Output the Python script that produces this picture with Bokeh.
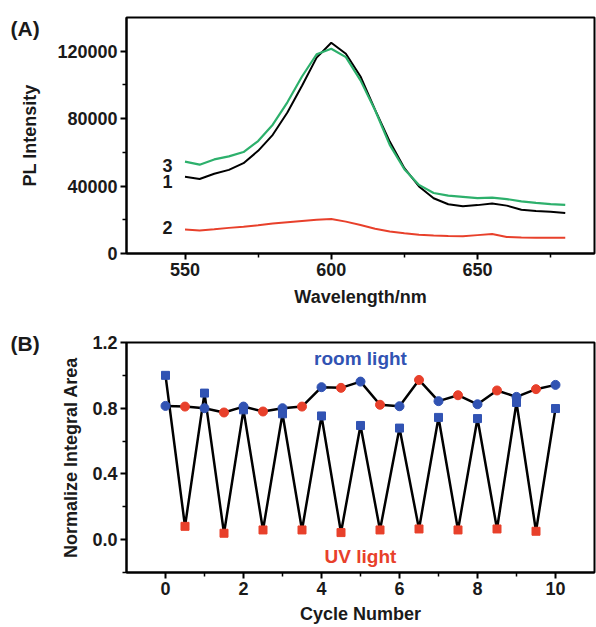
from bokeh.plotting import figure
from bokeh.layouts import column
from bokeh.models import Range1d, FixedTicker, Label
from bokeh.embed import file_html
from bokeh.resources import INLINE

# ---------------- Panel A data ----------------
wavelength = [550, 555, 560, 565, 570, 575, 580, 585, 590, 595, 600, 605, 610, 615,
              620, 625, 630, 635, 640, 645, 650, 655, 660, 665, 670, 675, 680]
curve1 = [45500, 44200, 47300, 49600, 53600, 60900, 70400, 83600, 99500, 116200, 125000,
          118500, 105000, 85200, 66400, 50600, 39800, 32800, 29200, 28000, 28700, 29600,
          28400, 26000, 25200, 24800, 24000]
curve2 = [14200, 13700, 14400, 15200, 15900, 16700, 17800, 18600, 19300, 20000, 20500,
          18900, 16900, 14700, 13100, 12000, 11100, 10700, 10400, 10200, 10900, 11600,
          9800, 9500, 9400, 9300, 9300]
curve3 = [54500, 52700, 55800, 57600, 60200, 66700, 76400, 89700, 105000, 118200, 121500,
          116500, 102700, 85000, 64400, 50000, 40700, 35900, 34300, 33600, 32900, 33100,
          32300, 30900, 30000, 29300, 28900]
curve_names = ["1", "2", "3"]
a_xticks = [550, 600, 650]
a_xminor = [575, 625, 675]
a_yticks = [0, 40000, 80000, 120000]
a_ytick_labels = ["0", "40000", "80000", "120000"]
a_yminor = [20000, 60000, 100000]

# ---------------- Panel B data ----------------
cycle = [0, 0.5, 1, 1.5, 2, 2.5, 3, 3.5, 4, 4.5, 5, 5.5, 6, 6.5, 7, 7.5, 8, 8.5, 9, 9.5, 10]
switching = [1.00, 0.081, 0.892, 0.039, 0.79, 0.059, 0.766, 0.059, 0.753, 0.043, 0.695,
             0.059, 0.679, 0.065, 0.744, 0.059, 0.737, 0.065, 0.835, 0.051, 0.798]
stable = [0.814, 0.81, 0.80, 0.774, 0.81, 0.78, 0.80, 0.81, 0.928, 0.924, 0.962, 0.821,
          0.812, 0.972, 0.843, 0.879, 0.824, 0.908, 0.869, 0.916, 0.942]
b_xticks = [0, 2, 4, 6, 8, 10]
b_xminor = [1, 3, 5, 7, 9]
b_yticks = [0.0, 0.4, 0.8, 1.2]
b_ytick_labels = ["0.0", "0.4", "0.8", "1.2"]
b_yminor = [-0.2, 0.2, 0.6, 1.0]

FONT = "Liberation Sans"
BLUE = "#3153b3"
RED = "#e8402b"
GREEN = "#2db06c"
INK = "#1a1a1a"


def style(p, ylab_standoff, xlab_standoff):
    p.outline_line_color = "black"
    p.outline_line_width = 2
    p.xgrid.visible = False
    p.ygrid.visible = False
    p.background_fill_color = "white"
    p.border_fill_color = "white"
    for ax in (p.xaxis[0], p.yaxis[0]):
        ax.axis_line_width = 2
        ax.axis_line_color = "black"
        ax.major_tick_line_width = 2
        ax.minor_tick_line_width = 1.5
        ax.major_tick_out = 6
        ax.major_tick_in = 0
        ax.minor_tick_out = 4
        ax.minor_tick_in = 0
        ax.major_label_text_font = FONT
        ax.major_label_text_font_style = "bold"
        ax.major_label_text_font_size = "18px"
        ax.major_label_text_color = INK
        ax.major_label_standoff = 3
        ax.axis_label_text_font = FONT
        ax.axis_label_text_font_style = "bold"
        ax.axis_label_text_font_size = "18px"
        ax.axis_label_text_color = INK
    p.xaxis[0].axis_label_standoff = xlab_standoff
    p.yaxis[0].axis_label_standoff = ylab_standoff


def panel_tag(text, y):
    # placed in canvas pixels; lives in a side panel that has spare room
    return Label(x=10, y=y, x_units="canvas", y_units="canvas", text=text,
                 text_font=FONT, text_font_style="bold", text_font_size="21px",
                 text_align="left", text_baseline="middle", text_color=INK)


# ---------------- Panel A ----------------
pa = figure(width=596, height=332, output_backend="svg", toolbar_location=None,
            x_range=Range1d(530, 690), y_range=Range1d(0, 140000),
            min_border_left=126, min_border_right=2, min_border_top=17, min_border_bottom=78,
            x_axis_label="Wavelength/nm", y_axis_label="PL Intensity")
style(pa, 14, 8)
pa.xaxis[0].ticker = FixedTicker(ticks=a_xticks, minor_ticks=a_xminor)
pa.yaxis[0].ticker = FixedTicker(ticks=a_yticks, minor_ticks=a_yminor)
pa.yaxis[0].major_label_overrides = dict(zip(a_yticks, a_ytick_labels))

pa.line(wavelength, curve2, line_color=RED, line_width=2)
pa.line(wavelength, curve1, line_color="black", line_width=2)
pa.line(wavelength, curve3, line_color=GREEN, line_width=2.2)

for name, ys in zip(curve_names, (curve1, curve2, curve3)):
    pa.add_layout(Label(x=544, y=ys[0] - 2500 if name != "2" else ys[0] + 1200,
                        text=name, text_font=FONT, text_font_style="bold",
                        text_font_size="18px", text_align="center",
                        text_baseline="middle", text_color=INK))
pa.add_layout(panel_tag("(A)", 28), "below")

# ---------------- Panel B ----------------
pb = figure(width=596, height=294, output_backend="svg", toolbar_location=None,
            x_range=Range1d(-1, 11), y_range=Range1d(-0.2, 1.2),
            min_border_left=126, min_border_right=2, min_border_top=10, min_border_bottom=53,
            x_axis_label="Cycle Number", y_axis_label="Normalize Integral Area")
style(pb, 8, 6)
pb.xaxis[0].ticker = FixedTicker(ticks=b_xticks, minor_ticks=b_xminor)
pb.yaxis[0].ticker = FixedTicker(ticks=b_yticks, minor_ticks=b_yminor)
pb.yaxis[0].major_label_overrides = dict(zip(b_yticks, b_ytick_labels))

colors = [BLUE if c == int(c) else RED for c in cycle]
pb.line(cycle, switching, line_color="black", line_width=2.5)
pb.line(cycle, stable, line_color="black", line_width=2.5)
pb.scatter(cycle, switching, marker="square", size=8, fill_color=colors, line_color=colors)
pb.scatter(cycle, stable, marker="circle", size=9, fill_color=colors, line_color=colors)

pb.add_layout(Label(x=5, y=1.104, text="room light", text_font=FONT, text_font_style="bold",
                    text_font_size="19px", text_align="center", text_baseline="middle",
                    text_color=BLUE))
pb.add_layout(Label(x=5, y=-0.105, text="UV light", text_font=FONT, text_font_style="bold",
                    text_font_size="19px", text_align="center", text_baseline="middle",
                    text_color=RED))
pb.add_layout(panel_tag("(B)", 11), "left")

layout = column(pa, pb, spacing=0)
open("out.html", "w").write(file_html(layout, INLINE))
